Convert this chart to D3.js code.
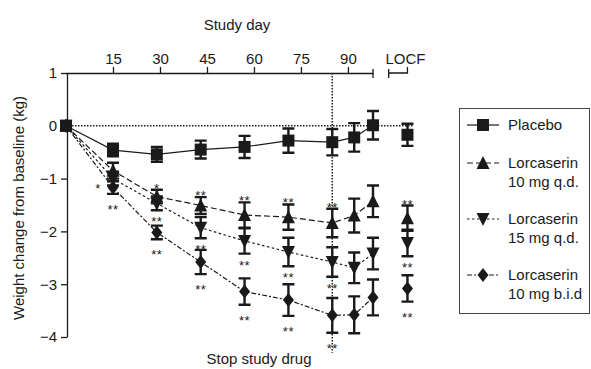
<!DOCTYPE html>
<html>
<head>
<meta charset="utf-8">
<script src="https://cdn.jsdelivr.net/npm/d3@7"></script>
<style>
  html, body { margin: 0; padding: 0; background: #fff; }
  svg { display: block; font-family: "Liberation Sans", Arial, Helvetica, sans-serif; }
</style>
</head>
<body>
<svg id="chart" width="591" height="369"></svg>
<script>
// study visits (days), LOCF drawn on its own slot to the right
const days = [0, 15, 29, 43, 57, 71, 85, 92, 98];
const dayTicks = [15, 30, 45, 60, 75, 90];
const yTicks = [1, 0, -1, -2, -3, -4];
const stopDay = 85;
const locfDay = 109;

// mean change (kg) and error, last entry = LOCF
const placebo   = [0, -0.46, -0.54, -0.45, -0.40, -0.28, -0.31, -0.22, 0.01, -0.17];
const placeboSE = [0, 0.12, 0.14, 0.17, 0.21, 0.23, 0.25, 0.27, 0.27, 0.21];
const lorc10qd   = [0, -0.85, -1.34, -1.51, -1.69, -1.73, -1.84, -1.70, -1.43, -1.75];
const lorc10qdSE = [0, 0.15, 0.13, 0.16, 0.24, 0.24, 0.27, 0.32, 0.30, 0.24];
const lorc15qd   = [0, -1.00, -1.47, -1.93, -2.18, -2.39, -2.58, -2.69, -2.42, -2.22];
const lorc15qdSE = [0, 0.13, 0.13, 0.20, 0.24, 0.27, 0.28, 0.29, 0.30, 0.25];
const lorc10bid   = [0, -1.17, -2.02, -2.58, -3.14, -3.30, -3.59, -3.58, -3.25, -3.08];
const lorc10bidSE = [0, 0.12, 0.13, 0.23, 0.25, 0.30, 0.33, 0.35, 0.34, 0.25];

// significance marks
const stars10qd  = ['', '', '*', '**', '**', '**', '**', '', '', '**'];
const stars15qd  = ['', '*', '**', '**', '**', '**', '**', '', '', '**'];
const stars10bid = ['', '**', '**', '**', '**', '**', '**', '', '', '**'];

const ink = '#1a1a1a';
const svg = d3.select('#chart');

const x = d3.scaleLinear().domain([0, 98]).range([66, 373]);
const y = d3.scaleLinear().domain([-4, 1]).range([337, 73]);
const xAt = i => i < days.length ? x(days[i]) : x(locfDay);

// symbols
const shapes = {
  square: 'M-6,-6H6V6H-6Z',
  up: 'M0,-7L6.5,6H-6.5Z',
  down: 'M0,7L6.5,-6H-6.5Z',
  diamond: 'M0,-7L5.5,0L0,7L-5.5,0Z'
};

const series = [
  { name: 'Placebo', vals: placebo, se: placeboSE, shape: 'square', dash: null, stars: null },
  { name: 'Lorcaserin 10 mg q.d.', vals: lorc10qd, se: lorc10qdSE, shape: 'up', dash: '6,3', stars: stars10qd, side: 'above' },
  { name: 'Lorcaserin 15 mg q.d.', vals: lorc15qd, se: lorc15qdSE, shape: 'down', dash: '2.5,2.5', stars: stars15qd, side: 'below' },
  { name: 'Lorcaserin 10 mg b.i.d', vals: lorc10bid, se: lorc10bidSE, shape: 'diamond', dash: '5,2,2,2', stars: stars10bid, side: 'below' }
];

// reference lines
svg.append('line')
  .attr('x1', x(0)).attr('x2', x(111))
  .attr('y1', y(0)).attr('y2', y(0))
  .attr('stroke', ink).attr('stroke-width', 1.5).attr('stroke-dasharray', '1.5,1.5');
svg.append('line')
  .attr('x1', x(stopDay)).attr('x2', x(stopDay))
  .attr('y1', y(1)).attr('y2', y(-4.3))
  .attr('stroke', ink).attr('stroke-width', 1.5).attr('stroke-dasharray', '1.5,1.5');

// top axis
const topAxis = svg.append('g').attr('transform', `translate(0,${y(1)})`)
  .call(d3.axisTop(x).tickValues(dayTicks).tickSize(6).tickSizeOuter(0).tickPadding(3));
topAxis.select('.domain').attr('stroke', ink).attr('stroke-width', 1.3);
topAxis.selectAll('.tick line').attr('stroke', ink).attr('stroke-width', 1.3);
topAxis.selectAll('.tick text').attr('fill', ink).style('font-size', '15px').style('font-family', 'inherit');
svg.append('line').attr('x1', x(98)).attr('x2', x(98)).attr('y1', y(1) - 4).attr('y2', y(1) + 5)
  .attr('stroke', ink).attr('stroke-width', 1.3);
// LOCF bracket
svg.append('path')
  .attr('d', `M${x(103)},${y(1) - 4}V${y(1) + 5}M${x(103)},${y(1)}H${x(locfDay)}V${y(1) - 6}`)
  .attr('fill', 'none').attr('stroke', ink).attr('stroke-width', 1.3);
svg.append('text').attr('x', x(locfDay) - 2).attr('y', y(1) - 9)
  .attr('text-anchor', 'middle').attr('fill', ink).style('font-size', '15px').text('LOCF');
svg.append('text').attr('x', 237).attr('y', 30)
  .attr('text-anchor', 'middle').attr('fill', ink).style('font-size', '15px').text('Study day');

// left axis
const leftAxis = svg.append('g').attr('transform', `translate(${x(0) + 1},0)`)
  .call(d3.axisLeft(y).tickValues(yTicks).tickSize(6).tickSizeOuter(0).tickPadding(4)
    .tickFormat(d => d < 0 ? '\u2212' + Math.abs(d) : d));
leftAxis.select('.domain').attr('stroke', ink).attr('stroke-width', 1.3);
leftAxis.selectAll('.tick line').attr('stroke', ink).attr('stroke-width', 1.3);
leftAxis.selectAll('.tick text').attr('fill', ink).style('font-size', '15px').style('font-family', 'inherit');
svg.append('text').attr('transform', 'translate(24,208) rotate(-90)')
  .attr('text-anchor', 'middle').attr('fill', ink).style('font-size', '15px')
  .text('Weight change from baseline (kg)');

svg.append('text').attr('x', 259).attr('y', 364)
  .attr('text-anchor', 'middle').attr('fill', ink).style('font-size', '15px').text('Stop study drug');

// connecting lines (visits only, not LOCF)
const line = d3.line().x((d, i) => x(days[i])).y(d => y(d));
series.forEach(s => {
  svg.append('path')
    .datum(s.vals.slice(0, days.length))
    .attr('d', line)
    .attr('fill', 'none').attr('stroke', ink).attr('stroke-width', 1.2)
    .attr('stroke-dasharray', s.dash);
});

// error bars and markers
series.forEach(s => {
  const g = svg.append('g');
  s.vals.forEach((v, i) => {
    const e = s.se[i];
    const cx = xAt(i);
    if (e > 0) {
      g.append('path')
        .attr('d', `M${cx},${y(v + e)}V${y(v - e)}M${cx - 6},${y(v + e)}H${cx + 6}M${cx - 6},${y(v - e)}H${cx + 6}`)
        .attr('fill', 'none').attr('stroke', ink).attr('stroke-width', 2.4);
    }
    g.append('path').attr('d', shapes[s.shape])
      .attr('transform', `translate(${cx},${y(v)})`).attr('fill', ink);
  });
});

// stars
series.forEach(s => {
  if (!s.stars) return;
  s.stars.forEach((t, i) => {
    if (!t) return;
    const v = s.vals[i], e = s.se[i];
    let sx = xAt(i), sy;
    if (s.side === 'above') sy = y(v + e) - 5;
    else if (s.shape === 'diamond') sy = y(v - e) + 12;
    else sy = y(v - e) + 8;
    if (s.shape === 'down' && i === 1) { sx = xAt(i) - 15; sy = y(v) + 6; }
    svg.append('text').attr('x', sx).attr('y', sy + 8)
      .attr('text-anchor', 'middle').attr('fill', ink)
      .style('font-size', '13px').style('letter-spacing', '0.5px').text(t);
  });
});

// legend
const lg = svg.append('g');
lg.append('rect').attr('x', 459.5).attr('y', 108.5).attr('width', 130).attr('height', 205)
  .attr('fill', 'none').attr('stroke', '#444').attr('stroke-width', 1);
const legendRows = [125, 163, 219, 275];
series.forEach((s, i) => {
  const ly = legendRows[i];
  lg.append('line').attr('x1', 467).attr('x2', 499).attr('y1', ly).attr('y2', ly)
    .attr('stroke', ink).attr('stroke-width', 1.2).attr('stroke-dasharray', s.dash);
  lg.append('path').attr('d', shapes[s.shape]).attr('transform', `translate(483,${ly})`).attr('fill', ink);
  const words = s.name === 'Placebo' ? ['Placebo'] : ['Lorcaserin', s.name.replace('Lorcaserin ', '')];
  words.forEach((w, k) => {
    lg.append('text').attr('x', 508).attr('y', ly + 5 + k * 19)
      .attr('fill', ink).style('font-size', '15px').text(w);
  });
});
</script>
</body>
</html>
